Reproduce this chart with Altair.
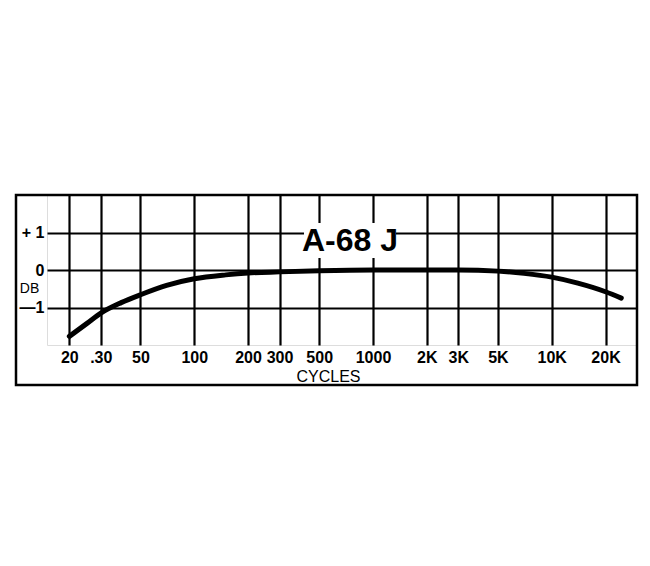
import altair as alt
import pandas as pd

# Response curve (frequency in Hz, level in dB)
freqs = [20, 25, 30, 39, 50, 70, 100, 150, 200, 300, 500, 1000, 2000, 3000, 5000, 7000, 10000, 14000, 20000, 24500]
levels = [-1.77, -1.43, -1.15, -0.87, -0.66, -0.41, -0.235, -0.13, -0.08, -0.05, -0.02, 0.0, 0.0, 0.0, -0.03, -0.09, -0.19, -0.35, -0.58, -0.75]

# Axis ticks
x_ticks = [20, 30, 50, 100, 200, 300, 500, 1000, 2000, 3000, 5000, 10000, 20000]
x_tick_labels = ["20", ".30", "50", "100", "200", "300", "500", "1000", "2K", "3K", "5K", "10K", "20K"]
y_ticks = [-1, 0, 1]
y_tick_labels = ["\u20141", "0", "+ 1"]

title_text = "A-68 J"
x_title = "CYCLES"
y_title = "DB"

FONT = "Liberation Sans, Arial, sans-serif"

df = pd.DataFrame({"freq": freqs, "db": levels})

def label_expr(values, labels):
    parts = []
    for v, l in zip(values, labels):
        parts.append(f"datum.value == {v} ? '{l}'")
    return " : ".join(parts) + " : ''"

x_scale = alt.Scale(type="log", domain=[15, 30000], nice=False)
y_scale = alt.Scale(domain=[-2, 2], nice=False)

x_axis = alt.Axis(
    values=x_ticks, labelExpr=label_expr(x_ticks, x_tick_labels),
    grid=True, gridColor="black", gridWidth=2.2, gridOpacity=1,
    ticks=False, domain=False, labelFont=FONT, labelFontSize=16, labelFontWeight="bold",
    labelColor="black", labelPadding=4, labelFlush=False, labelOverlap=False,
    title=x_title, titleFont=FONT, titleFontSize=16, titleFontWeight="normal",
    titleColor="black", titleX=281, titleY=31, titleAnchor="middle", titleBaseline="middle",
)
y_axis = alt.Axis(
    values=y_ticks, labelExpr=label_expr(y_ticks, y_tick_labels),
    grid=True, gridColor="black", gridWidth=2.2, gridOpacity=1,
    ticks=False, domain=False, labelFont=FONT, labelFontSize=16, labelFontWeight="bold",
    labelColor="black", labelPadding=3,
    title=y_title, titleFont=FONT, titleFontSize=14, titleFontWeight="normal",
    titleColor="black", titleAngle=0, titleX=-18, titleY=93, titleAlign="center",
    titleBaseline="middle",
)

line = alt.Chart(df).mark_line(color="black", strokeWidth=5, interpolate="monotone", strokeCap="round").encode(
    x=alt.X("freq:Q", scale=x_scale, axis=x_axis),
    y=alt.Y("db:Q", scale=y_scale, axis=y_axis),
)

one = pd.DataFrame({"a": [0]})

outer_box = alt.Chart(one).mark_rect(fill=None, stroke="black", strokeWidth=2.5).encode(
    x=alt.value(-31), x2=alt.value(590), y=alt.value(0), y2=alt.value(190)
)

title_bg = alt.Chart(one).mark_rect(fill="white", stroke=None).encode(
    x=alt.value(257), x2=alt.value(349), y=alt.value(28), y2=alt.value(63)
)
title = alt.Chart(one).mark_text(
    text=title_text, font=FONT, fontSize=32, fontWeight="bold", color="black",
    align="center", baseline="middle"
).encode(x=alt.value(303), y=alt.value(46))

chart = alt.layer(line, outer_box, title_bg, title).properties(
    width=590, height=150,
    autosize=alt.AutoSizeParams(type="none"),
    padding={"left": 39, "top": 187, "right": 5, "bottom": 60},
).configure_view(stroke="black", strokeWidth=2.5).configure(background="white")

chart.save("out.html", embed_options={"renderer": "svg", "actions": False})
